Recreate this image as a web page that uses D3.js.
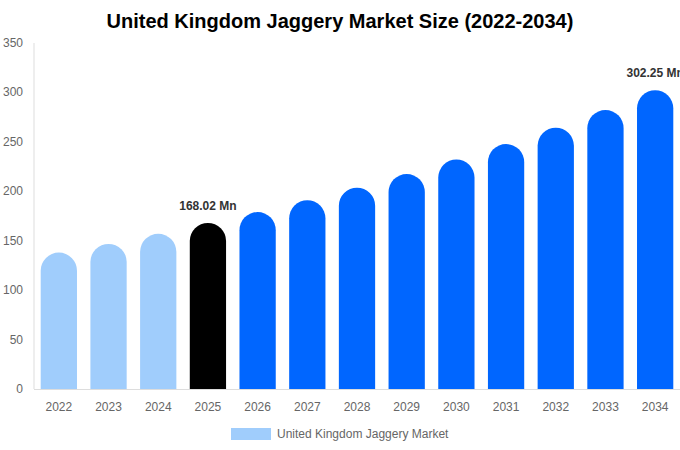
<!DOCTYPE html>
<html><head><meta charset="utf-8">
<script src="https://cdn.jsdelivr.net/npm/d3@7"></script>
<style>body{margin:0;background:#fff;font-family:"Liberation Sans",Arial,sans-serif;}</style>
</head><body><div id="chart"></div>
<script>
const years = ["2022","2023","2024","2025","2026","2027","2028","2029","2030","2031","2032","2033","2034"];
const values = [138, 146.8, 157, 168.02, 179, 191, 203.7, 217.5, 232.2, 247.8, 264.3, 282.2, 302.25];
const yTicks = [0,50,100,150,200,250,300,350];
const labelled = {"2025":"168.02 Mn","2034":"302.25 Mn"};
const seriesName = "United Kingdom Jaggery Market";

const W=680,H=450;
const svg=d3.select("#chart").append("svg").attr("width",W).attr("height",H);
const x=d3.scaleBand().domain(years).range([34,680]).paddingInner(0.27).paddingOuter(0.135);
const y=d3.scaleLinear().domain([0,350]).range([389,43]);

svg.append("text").attr("x",340).attr("y",28).attr("text-anchor","middle")
  .attr("font-size",20).attr("font-weight","bold").attr("fill","#000")
  .text("United Kingdom Jaggery Market Size (2022-2034)");

// y axis
svg.append("line").attr("x1",34).attr("x2",34).attr("y1",43).attr("y2",389).attr("stroke","#ddd");
svg.selectAll(".yt").data(yTicks).enter().append("text")
  .attr("x",23).attr("y",d=>y(d)+4).attr("text-anchor","end")
  .attr("font-size",12).attr("fill","#666").text(d=>d);

function color(yr,i){ if(yr==="2025") return "#000000"; return i<3?"#a0cdfc":"#0066ff"; }
const bw=x.bandwidth(), r=bw/2;
svg.selectAll(".bar").data(years).enter().append("path")
  .attr("fill",(d,i)=>color(d,i))
  .attr("d",(d,i)=>{
    const x0=x(d), x1=x0+bw, yb=y(0), yt=y(values[i]);
    return `M${x0},${yb}L${x0},${yt+r}A${r},${r} 0 0 1 ${x1},${yt+r}L${x1},${yb}Z`;
  });

// baseline
svg.append("line").attr("x1",34).attr("x2",680).attr("y1",389.5).attr("y2",389.5).attr("stroke","#ddd");

svg.selectAll(".xt").data(years).enter().append("text")
  .attr("x",d=>x(d)+bw/2).attr("y",411).attr("text-anchor","middle")
  .attr("font-size",12).attr("fill","#666").text(d=>d);

years.forEach((yr,i)=>{
  if(labelled[yr]) svg.append("text").attr("x",x(yr)+bw/2).attr("y",y(values[i])-13)
    .attr("text-anchor","middle").attr("font-size",12).attr("font-weight","bold").attr("fill","#333")
    .text(labelled[yr]);
});

svg.append("rect").attr("x",231).attr("y",428).attr("width",40).attr("height",12).attr("fill","#a0cdfc");
svg.append("text").attr("x",277).attr("y",438).attr("font-size",12).attr("fill","#666").text(seriesName);
</script></body></html>
